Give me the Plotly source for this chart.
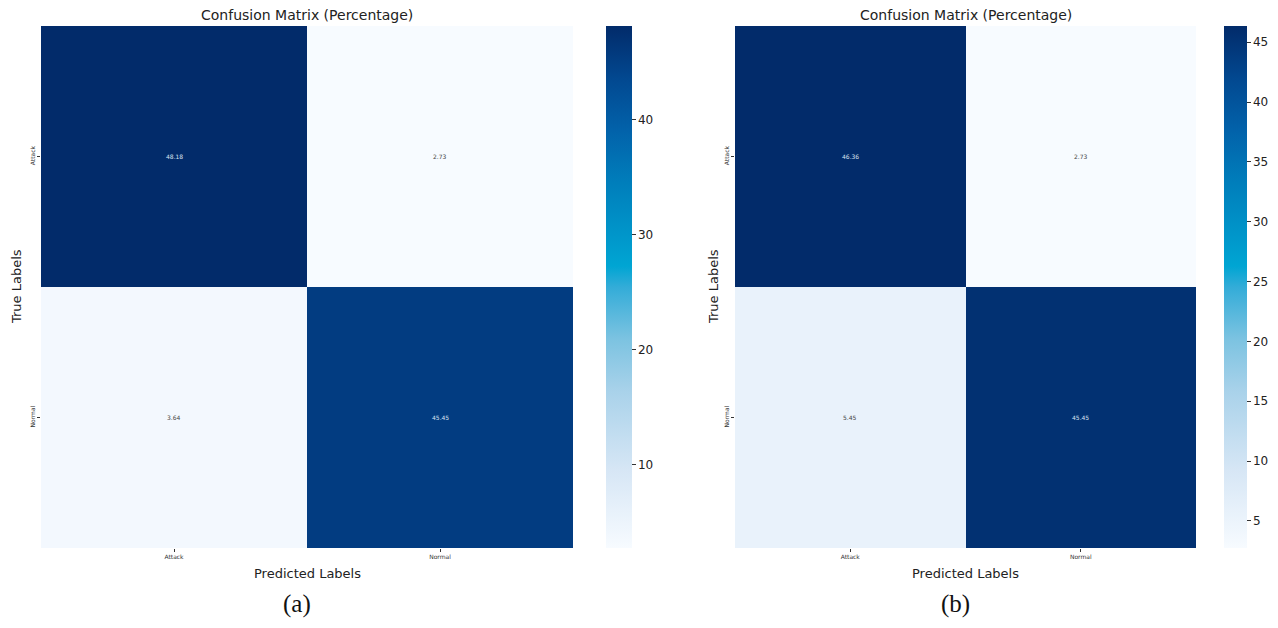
import plotly.graph_objects as go

labels = ["Attack", "Normal"]
values_a = [[48.18, 2.73], [3.64, 45.45]]
values_b = [[46.36, 2.73], [5.45, 45.45]]
ticks_a = [10, 20, 30, 40]
ticks_b = [5, 10, 15, 20, 25, 30, 35, 40, 45]
title_text = "Confusion Matrix (Percentage)"
captions = ["(a)", "(b)"]

# page body has an 8px margin; work in reference pixel coordinates and shift
OFF = 8
W, H = 1278 - OFF, 628 - OFF
def px(x): return (x - OFF) / W
def py(y): return 1 - (y - OFF) / H

blues = [
    [0.0, "#f7fbff"], [0.15, "#d6e6f5"], [0.3, "#a9d2ea"], [0.4, "#7cc3e1"],
    [0.5, "#33acd8"], [0.54, "#00a5d3"], [0.6, "#0096ca"], [0.7, "#007ebb"],
    [0.8, "#0262aa"], [0.9, "#024890"], [1.0, "#022b6a"],
]

fig = go.Figure()
FONT = "DejaVu Sans"

panels = [
    dict(z=values_a, ticks=ticks_a, xd=(41, 573), cbx=606, cbt=26, xa="x", ya="y"),
    dict(z=values_b, ticks=ticks_b, xd=(735, 1196), cbx=1224, cbt=23, xa="x2", ya="y2"),
]
y0, y1 = 26, 548
for i, p in enumerate(panels):
    flat = [v for row in p["z"] for v in row]
    zmin, zmax = min(flat), max(flat)
    fig.add_trace(go.Heatmap(
        z=p["z"], x=labels, y=labels, xaxis=p["xa"], yaxis=p["ya"],
        colorscale=blues, zmin=zmin, zmax=zmax, showscale=True,
        colorbar=dict(
            x=px(p["cbx"]), xanchor="left", xpad=0, ypad=0,
            y=py(y1), yanchor="bottom", len=(y1 - y0) / H, lenmode="fraction",
            thickness=p["cbt"], thicknessmode="pixels", outlinewidth=0,
            tickvals=p["ticks"], ticks="outside", ticklen=4, tickcolor="#333",
            tickfont=dict(family=FONT, size=12, color="#222"),
        ),
    ))
    for r, rl in enumerate(labels):
        for c, cl in enumerate(labels):
            v = p["z"][r][c]
            frac = (v - zmin) / (zmax - zmin)
            fig.add_annotation(
                x=cl, y=rl, xref=p["xa"], yref=p["ya"], text=f"{v:.2f}",
                showarrow=False,
                font=dict(family=FONT, size=6, color="#d8e2f0" if frac > 0.5 else "#444"),
            )
    xc = (p["xd"][0] + p["xd"][1]) / 2
    common = dict(xref="paper", yref="paper", showarrow=False,
                  xanchor="center", yanchor="middle")
    fig.add_annotation(x=px(xc), y=py(15), text=title_text,
                       font=dict(family=FONT, size=14, color="#222"), **common)
    fig.add_annotation(x=px(xc), y=py(573), text="Predicted Labels",
                       font=dict(family=FONT, size=13, color="#222"), **common)
    fig.add_annotation(x=px(xc - 10), y=py(604), text=captions[i],
                       font=dict(family="Liberation Serif", size=25, color="#111"), **common)
    tx = 16 if i == 0 else 713
    fig.add_annotation(x=px(tx), y=py(287), text="True Labels", textangle=-90,
                       font=dict(family=FONT, size=13, color="#222"), **common)

axis_common = dict(showgrid=False, zeroline=False, showline=False, ticks="outside",
                   ticklen=3, tickcolor="#333",
                   tickfont=dict(family=FONT, size=6, color="#333"))
fig.update_layout(
    width=W, height=H, margin=dict(l=0, r=0, t=0, b=0),
    paper_bgcolor="white", plot_bgcolor="white", showlegend=False,
    xaxis=dict(domain=[px(41), px(573)], anchor="y", **axis_common),
    yaxis=dict(domain=[py(y1), py(y0)], anchor="x", autorange="reversed",
               tickangle=-90, **axis_common),
    xaxis2=dict(domain=[px(735), px(1196)], anchor="y2", **axis_common),
    yaxis2=dict(domain=[py(y1), py(y0)], anchor="x2", autorange="reversed",
                tickangle=-90, **axis_common),
)

fig.write_html("out.html")
